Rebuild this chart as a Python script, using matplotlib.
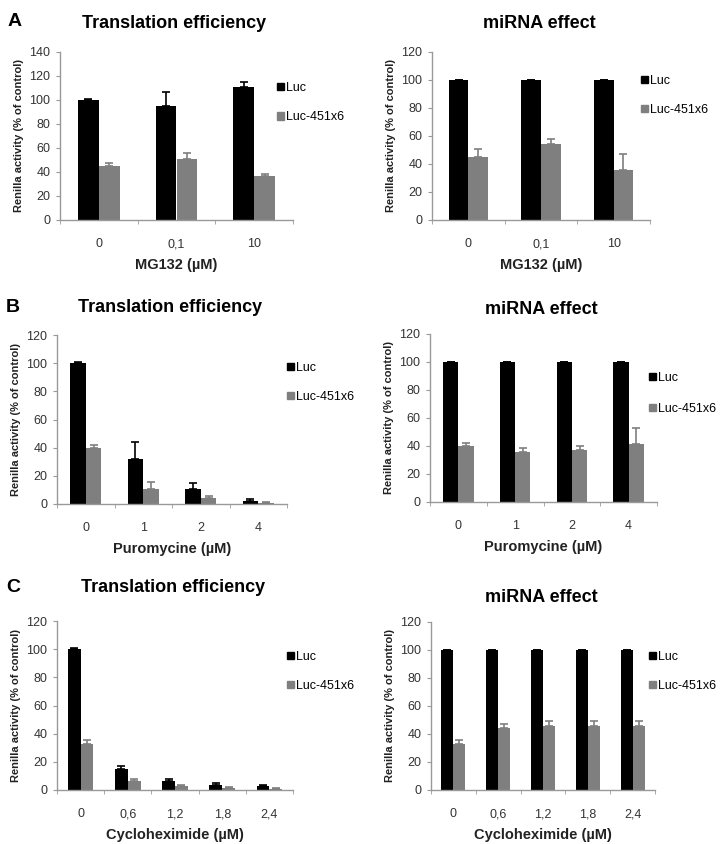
import numpy as np
import matplotlib.pyplot as plt
from matplotlib.patches import Patch

plt.rcParams["font.family"] = ["Liberation Sans", "DejaVu Sans"]

# ---- data ----
series = ["Luc", "Luc-451x6"]

mg_doses = ["0", "0,1", "10"]
mg_te_luc = [100, 95, 111]
mg_te_luc_err = [0.5, 12, 4]
mg_te_mir = [45, 51, 36.5]
mg_te_mir_err = [2.5, 4.5, 2]
mg_mi_luc = [100, 100, 100]
mg_mi_luc_err = [0.3, 0.3, 0.3]
mg_mi_mir = [45, 54, 35.5]
mg_mi_mir_err = [6, 4, 12]

puro_doses = ["0", "1", "2", "4"]
puro_te_luc = [100, 32, 11, 2]
puro_te_luc_err = [0.5, 12, 4, 1.5]
puro_te_mir = [40, 11, 4, 1]
puro_te_mir_err = [2, 4.5, 2, 0.5]
puro_mi_luc = [100, 100, 100, 100]
puro_mi_luc_err = [0.3, 0.3, 0.3, 0.3]
puro_mi_mir = [40, 36, 37.5, 41.5]
puro_mi_mir_err = [2, 2.5, 2.5, 11.5]

chx_doses = ["0", "0,6", "1,2", "1,8", "2,4"]
chx_te_luc = [100, 15, 6.5, 3.8, 3]
chx_te_luc_err = [0.5, 2, 1.5, 1, 0.8]
chx_te_mir = [33, 6.5, 2.5, 1.5, 1]
chx_te_mir_err = [2.5, 1.5, 0.7, 0.5, 0.4]
chx_mi_luc = [100, 100, 100, 100, 100]
chx_mi_luc_err = [0.3, 0.3, 0.3, 0.3, 0.3]
chx_mi_mir = [33, 44, 46, 46, 46]
chx_mi_mir_err = [3, 3, 3.5, 3.5, 3]

W, H = 725, 844
fig = plt.figure(figsize=(W / 100, H / 100), dpi=100)

black = "#000000"
grey = "#7f7f7f"
axcol = "#999999"
txtcol = "#333333"


def fx(x):
    return x / W


def fy(y):
    return 1 - y / H


def panel(box, cats, luc, luc_err, mir, mir_err, ymax, xlabel, title, title_y,
          leg_xy, leg_gap):
    x0, y0, x1, y1 = box
    ax = fig.add_axes([fx(x0), fy(y1), fx(x1) - fx(x0), fy(y0) - fy(y1)])
    n = len(cats)
    x = np.arange(n)
    w = 0.27
    ax.bar(x - w / 2, luc, w, color=black, zorder=2)
    ax.bar(x + w / 2, mir, w, color=grey, zorder=2)
    ax.errorbar(x - w / 2, luc, yerr=[np.zeros(n), luc_err], fmt="none",
                ecolor=black, elinewidth=1.2, capsize=3, capthick=1.2, zorder=3)
    ax.errorbar(x + w / 2, mir, yerr=[np.zeros(n), mir_err], fmt="none",
                ecolor=grey, elinewidth=1.2, capsize=3, capthick=1.2, zorder=3)
    ax.set_xlim(-0.5, n - 0.5)
    ax.set_ylim(0, ymax)
    ax.set_yticks(np.arange(0, ymax + 1, 20))
    ax.set_xticks(x)
    ax.set_xticklabels(cats)
    ax.set_xticks(np.arange(-0.5, n, 1.0), minor=True)
    ax.tick_params(axis="x", which="major", length=0, pad=13, labelsize=9,
                   labelcolor=txtcol)
    ax.tick_params(axis="x", which="minor", length=3, color=axcol, direction="out")
    ax.tick_params(axis="y", length=3, color=axcol, labelsize=9,
                   labelcolor=txtcol, pad=4)
    for s in ["top", "right"]:
        ax.spines[s].set_visible(False)
    for s in ["left", "bottom"]:
        ax.spines[s].set_color(axcol)
        ax.spines[s].set_linewidth(1.0)
    ax.set_ylabel("Renilla activity (% of control)", fontsize=8, fontweight="bold",
                  color="#222222", labelpad=4)
    ax.set_xlabel(xlabel, fontsize=10.5, fontweight="bold", color="#222222",
                  labelpad=6)
    fig.text(fx((x0 + x1) / 2 - 2), fy(title_y), title, fontsize=13,
             fontweight="bold", ha="center", va="center")
    handles = [Patch(color=black), Patch(color=grey)]
    fig.legend(handles, series, loc="upper left",
               bbox_to_anchor=(fx(leg_xy[0]), fy(leg_xy[1])), frameon=False,
               fontsize=9, handlelength=0.55, handleheight=0.55,
               handletextpad=0.15, labelspacing=leg_gap, borderpad=0,
               borderaxespad=0)
    return ax


panel((60, 52, 293, 220), mg_doses, mg_te_luc, mg_te_luc_err, mg_te_mir,
      mg_te_mir_err, 140, "MG132 (µM)", "Translation efficiency", 24,
      (277, 82), 1.4)
panel((432, 52, 650, 220), mg_doses, mg_mi_luc, mg_mi_luc_err, mg_mi_mir,
      mg_mi_mir_err, 120, "MG132 (µM)", "miRNA effect", 24,
      (641, 75), 1.35)
panel((57, 335, 287, 504), puro_doses, puro_te_luc, puro_te_luc_err,
      puro_te_mir, puro_te_mir_err, 120, "Puromycine (µM)",
      "Translation efficiency", 308, (287, 362), 1.35)
panel((430, 334, 657, 502), puro_doses, puro_mi_luc, puro_mi_luc_err,
      puro_mi_mir, puro_mi_mir_err, 120, "Puromycine (µM)", "miRNA effect",
      310, (649, 372), 1.5)
panel((57, 621, 293, 790), chx_doses, chx_te_luc, chx_te_luc_err, chx_te_mir,
      chx_te_mir_err, 120, "Cycloheximide (µM)", "Translation efficiency",
      588, (287, 651), 1.35)
panel((431, 622, 655, 790), chx_doses, chx_mi_luc, chx_mi_luc_err, chx_mi_mir,
      chx_mi_mir_err, 120, "Cycloheximide (µM)", "miRNA effect", 598,
      (649, 651), 1.35)

for letter, (lx, ly) in zip("ABC", [(15, 22), (13, 308), (13, 588)]):
    fig.text(fx(lx), fy(ly), letter, fontsize=14, fontweight="bold",
             ha="center", va="center")

fig.savefig("out.png", dpi=100)
